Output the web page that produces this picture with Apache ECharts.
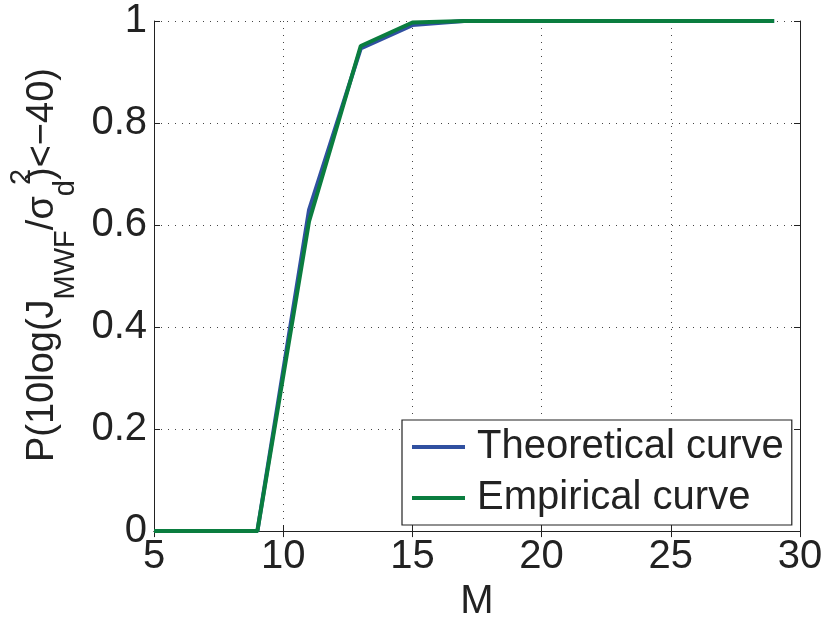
<!DOCTYPE html>
<html>
<head>
<meta charset="utf-8">
<script src="https://cdn.jsdelivr.net/npm/echarts@6/dist/echarts.min.js"></script>
<style>
html,body{margin:0;padding:0;background:#fff;}
#chart{width:826px;height:627px;}
</style>
</head>
<body>
<div id="chart"></div>
<script>
const mValues = [5, 7, 9, 11, 13, 15, 17, 19, 21, 23, 25, 27, 29];
const theoretical = [0, 0, 0, 0.63, 0.946, 0.992, 1, 1, 1, 1, 1, 1, 1];
const empirical = [0, 0, 0, 0.607, 0.951, 0.997, 1, 1, 1, 1, 1, 1, 1];
const seriesNames = ['Theoretical curve', 'Empirical curve'];
const xTicks = {min: 5, max: 30, interval: 5};
const yTicks = {min: 0, max: 1, interval: 0.2};

const FONT = '"Liberation Sans", Arial, Helvetica, sans-serif';
const chart = echarts.init(document.getElementById('chart'), null, {renderer: 'canvas'});

const pair = arr => mValues.map((m, i) => [m, arr[i]]);

const gridLine = {show: true, lineStyle: {color: '#444', width: 1, type: [1, 6]}};
const axisLine = {show: true, lineStyle: {color: '#222', width: 1}};
const tick = {show: true, inside: true, length: 6, lineStyle: {color: '#222'}};

chart.setOption({
  animation: false,
  backgroundColor: '#fff',
  grid: {left: 154, right: 26, top: 21, bottom: 88, containLabel: false},
  legend: {
    data: seriesNames,
    orient: 'vertical',
    left: 402, top: 420,
    backgroundColor: '#fff',
    borderColor: '#222', borderWidth: 1.2, borderRadius: 0,
    padding: [7, 8, 7, 10],
    icon: 'rect',
    itemWidth: 53, itemHeight: 4, itemGap: 11,
    textStyle: {fontFamily: FONT, fontSize: 40, color: '#222', padding: [0, 0, 0, 7], lineHeight: 40}
  },
  graphic: [{
    type: 'text', x: 22, y: 177, rotation: Math.PI / 2,
    style: {text: '2', fontFamily: FONT, fontSize: 29, fill: '#222', align: 'center', verticalAlign: 'middle'}
  }],
  xAxis: [{
    type: 'value', min: xTicks.min, max: xTicks.max, interval: xTicks.interval,
    name: 'M', nameLocation: 'middle', nameGap: 50,
    nameTextStyle: {fontFamily: FONT, fontSize: 40, color: '#222'},
    axisLine: axisLine, axisTick: tick, splitLine: gridLine,
    axisLabel: {fontFamily: FONT, fontSize: 40, color: '#222', margin: 6}
  }, {
    type: 'value', position: 'top', min: xTicks.min, max: xTicks.max, interval: xTicks.interval,
    axisLine: axisLine, axisTick: tick, splitLine: {show: false}, axisLabel: {show: false}
  }],
  yAxis: [{
    type: 'value', min: yTicks.min, max: yTicks.max, interval: yTicks.interval,
    name: '{m|P(10log(J}{sub|MWF}{m|/σ}{sub|d}{m|)<−40)}',
    nameLocation: 'middle', nameRotate: 90, nameGap: 70,
    nameTextStyle: {
      fontFamily: FONT, color: '#222', padding: [0, 0, 0, 22],
      rich: {
        m: {fontFamily: FONT, fontSize: 38, color: '#222', verticalAlign: 'middle'},
        sub: {fontFamily: FONT, fontSize: 29, color: '#222', verticalAlign: 'middle', padding: [46, 0, 0, 0]}
      }
    },
    axisLine: axisLine, axisTick: tick, splitLine: gridLine,
    axisLabel: {fontFamily: FONT, fontSize: 40, color: '#222', margin: 7, formatter: v => String(v)}
  }, {
    type: 'value', position: 'right', min: yTicks.min, max: yTicks.max, interval: yTicks.interval,
    axisLine: axisLine, axisTick: tick, splitLine: {show: false}, axisLabel: {show: false}
  }],
  series: [{
    name: seriesNames[0], type: 'line', data: pair(theoretical),
    symbol: 'none', lineStyle: {color: '#3050A0', width: 4}, itemStyle: {color: '#3050A0'}, z: 3
  }, {
    name: seriesNames[1], type: 'line', data: pair(empirical),
    symbol: 'none', lineStyle: {color: '#0A7D3F', width: 4}, itemStyle: {color: '#0A7D3F'}, z: 4
  }]
});
</script>
</body>
</html>
